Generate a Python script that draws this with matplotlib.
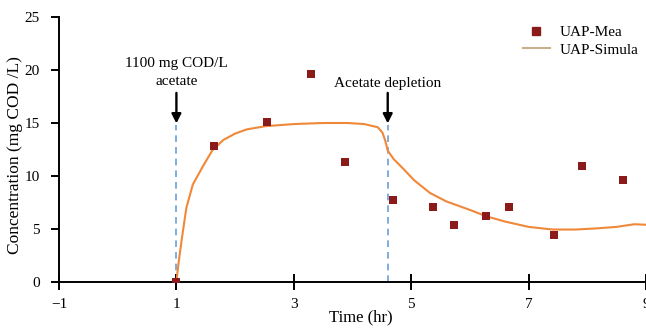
import matplotlib
matplotlib.use("Agg")
import matplotlib.pyplot as plt
from matplotlib.lines import Line2D

plt.rcParams['font.family'] = ['Liberation Serif', 'DejaVu Serif']

# Measured data
meas_t = [1.0, 1.64, 2.54, 3.29, 3.88, 4.69, 5.37, 5.73, 6.27, 6.67, 7.43, 7.91, 8.61]
meas_c = [0.0, 12.8, 15.1, 19.6, 11.3, 7.7, 7.1, 5.4, 6.2, 7.1, 4.4, 10.9, 9.6]

# Simulated curve
sim_t = [1.0, 1.03, 1.09, 1.17, 1.28, 1.45, 1.61, 1.8, 2.0, 2.2, 2.52, 3.0, 3.5, 3.92, 4.2, 4.43, 4.51,
         4.56, 4.6, 4.7, 4.88, 5.05, 5.32, 5.6, 6.0, 6.28, 6.6, 7.0, 7.41, 7.8, 8.14, 8.5, 8.8, 9.0]
sim_c = [0.0, 1.5, 4.0, 7.0, 9.2, 10.9, 12.4, 13.4, 14.0, 14.4, 14.7, 14.9, 15.0, 15.0, 14.9, 14.6, 14.1,
         13.3, 12.4, 11.6, 10.6, 9.6, 8.4, 7.6, 6.8, 6.2, 5.7, 5.2, 4.95, 4.95, 5.05, 5.2, 5.45, 5.4]

events_t = [1.0, 4.6]
event_labels = ["1100 mg COD/L\nacetate", "Acetate depletion"]

x_ticks = [-1, 1, 3, 5, 7, 9]
y_ticks = [0, 5, 10, 15, 20, 25]

fig = plt.figure(figsize=(6.46, 3.30), dpi=100)
ax = fig.add_axes([59/646, 1 - 282/330, 1 - 59/646, (282 - 17) / 330])

line_col = '#F0883A'
mark_col = '#8B1A1A'
dash_col = '#6A9FD8'

for t in events_t:
    ax.plot([t, t], [0, 14.8], ls=(0, (4, 3)), color=dash_col, lw=1.2, zorder=1)

ax.plot(sim_t, sim_c, color=line_col, lw=1.5, zorder=2)
ax.scatter(meas_t, meas_c, marker='s', s=30, color=mark_col, zorder=3, linewidths=0)

# arrows
for t in events_t:
    ax.annotate('', xy=(t, 14.7), xytext=(t, 18.1),
                arrowprops=dict(arrowstyle='-|>,head_length=0.55,head_width=0.28', color='black', lw=1.7))

ax.text(events_t[0], 18.3, event_labels[0], ha='center', va='bottom', fontsize=11, linespacing=1.5)
ax.text(events_t[1], 18.1, event_labels[1], ha='center', va='bottom', fontsize=11)

ax.set_xlim(-1, 9.0)
ax.set_ylim(0, 25)
ax.set_xticks(x_ticks)
ax.set_xticklabels(['\u22121' if v < 0 else str(v) for v in x_ticks])
ax.set_yticks(y_ticks)

for s in ['top', 'right']:
    ax.spines[s].set_visible(False)
ax.spines['left'].set_linewidth(1.4)
ax.spines['bottom'].set_linewidth(1.4)
ax.tick_params(axis='x', direction='inout', length=11, width=1.4, labelsize=11, pad=6)
ax.tick_params(axis='y', direction='out', length=6, width=1.4, labelsize=11, pad=8)

ax.set_xlabel('Time (hr)', fontsize=12)
ax.xaxis.set_label_coords((361 - 59) / (646 - 59), -(317 - 282) / 265, transform=ax.transAxes)
ax.set_ylabel('Concentration (mg COD /L)', fontsize=12.5)
ax.yaxis.set_label_coords(-(59 - 15) / 587, (282 - 155) / 265, transform=ax.transAxes)
ax.xaxis.label.set_va('center')
ax.yaxis.label.set_va('center')

handles = [Line2D([], [], marker='s', ls='none', color=mark_col, markersize=5.5),
           Line2D([], [], color='#C8B08A', lw=1.5)]
ax.legend(handles, ['UAP-Mea', 'UAP-Simula'], loc='upper right', bbox_to_anchor=(1.01, 1.02),
          frameon=False, fontsize=11, handlelength=1.8, handletextpad=0.6, labelspacing=0.25)

fig.savefig('out.png', dpi=100)
